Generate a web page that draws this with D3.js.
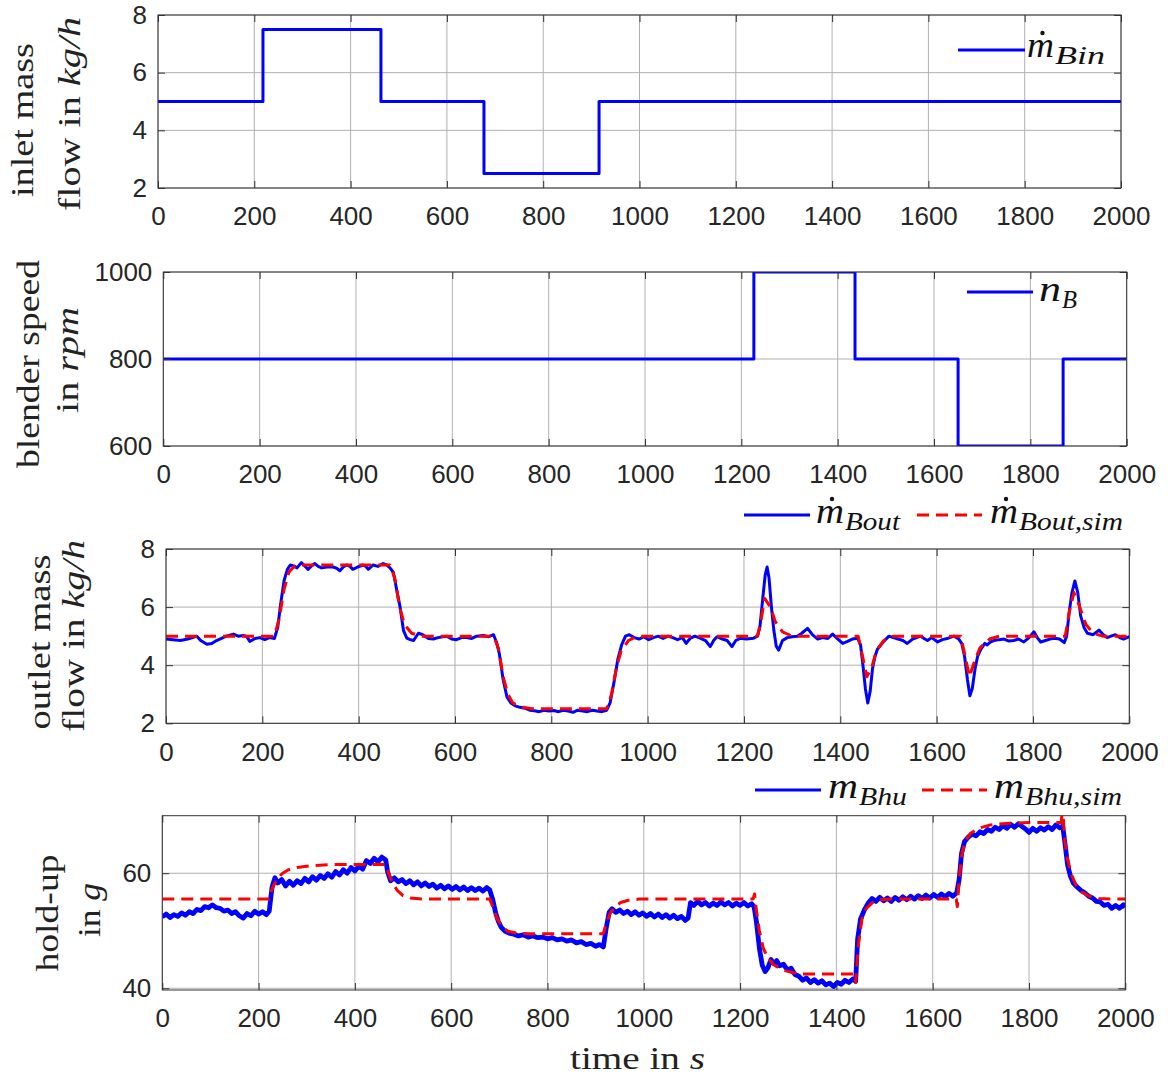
<!DOCTYPE html>
<html><head><meta charset="utf-8">
<script src="https://cdn.jsdelivr.net/npm/d3@7"></script>
<style>body{margin:0;background:#fff} svg{display:block}</style>
</head><body><svg id="c" width="1168" height="1075"></svg>
<script>
// ---------------- DATA ----------------
const xTicks = [0,200,400,600,800,1000,1200,1400,1600,1800,2000];

// Panel 1: inlet mass flow (step changes)
const tIn  = [0, 218, 463, 677, 916, 2000];
const mBin = [5, 7.5, 5, 2.5, 5, 5];
const yTicks1 = [2,4,6,8];

// Panel 2: blender speed (step changes)
const tN = [0, 1226, 1436, 1650, 1868, 2000];
const nB = [800, 1000, 800, 600, 800, 800];
const yTicks2 = [600,800,1000];

// Panel 3: outlet mass flow, measured
const tOut = [0,15,30,45,55,64,72,85,95,105,115,125,140,150,160,167,174,185,195,205,215,225,232,238,245,252,258,265,272,281,290,295,302,309,316,323,335,347,355,361,368,375,382,388,398,409,415,420,430,440,451,458,465,472,479,486,493,500,507,514,524,533,545,555,565,575,583,593,603,614,624,635,645,659,670,680,686,692,700,708,716,725,735,745,755,765,775,785,795,805,815,825,835,845,855,865,875,885,895,905,915,922,930,938,946,954,962,972,982,992,1002,1012,1022,1032,1042,1052,1062,1072,1080,1088,1098,1109,1120,1130,1137,1144,1155,1165,1175,1183,1193,1205,1220,1228,1233,1239,1244,1248,1252,1257,1262,1267,1272,1280,1290,1300,1311,1320,1332,1342,1353,1363,1374,1384,1395,1405,1415,1425,1436,1442,1447,1452,1457,1462,1467,1472,1477,1489,1501,1510,1520,1530,1539,1550,1567,1574,1581,1590,1602,1612,1624,1636,1646,1652,1658,1664,1669,1674,1680,1685,1692,1700,1705,1712,1719,1730,1740,1750,1760,1770,1781,1792,1802,1809,1816,1826,1835,1844,1855,1865,1870,1875,1881,1887,1893,1899,1906,1913,1925,1937,1946,1954,1962,1971,1980,1988,1995,2000];
const mBout = [4.9,4.88,4.85,4.9,4.95,5.0,4.85,4.72,4.75,4.85,4.92,5.0,5.07,5.0,5.02,5.0,4.82,4.92,4.95,4.88,4.95,4.92,5.3,6.1,6.9,7.3,7.45,7.42,7.35,7.53,7.38,7.3,7.42,7.5,7.4,7.35,7.38,7.38,7.33,7.25,7.38,7.45,7.4,7.3,7.38,7.45,7.4,7.3,7.45,7.4,7.5,7.45,7.35,7.2,6.6,6.0,5.2,4.93,4.88,4.85,5.1,5.05,4.92,4.9,4.95,4.98,5.0,4.9,4.88,4.95,4.95,4.92,5.0,5.02,4.98,5.05,4.8,4.4,3.5,2.9,2.7,2.6,2.55,2.52,2.45,2.43,2.4,2.45,2.42,2.44,2.4,2.45,2.42,2.38,2.45,2.42,2.4,2.45,2.42,2.4,2.45,2.7,3.4,4.2,4.7,5.0,5.05,4.95,4.9,4.98,4.88,4.95,5.0,4.92,5.0,4.95,4.88,4.95,4.75,4.92,5.0,4.93,4.85,4.64,4.85,4.98,4.9,4.85,4.64,4.85,4.93,4.9,4.93,5.0,5.3,6.3,7.1,7.38,7.0,6.0,5.2,4.65,4.52,4.85,4.95,4.98,5.0,5.1,5.27,5.05,4.9,4.95,4.92,5.07,4.9,4.75,4.82,4.9,4.93,4.7,4.0,3.2,2.7,3.1,3.9,4.3,4.55,4.8,5.0,4.95,4.9,4.85,4.75,4.9,5.0,4.92,4.85,4.95,4.8,4.88,4.93,5.0,4.9,4.75,4.3,3.5,2.95,3.2,3.9,4.3,4.55,4.75,4.7,4.8,4.85,4.88,4.9,4.83,4.85,4.9,4.8,4.95,5.15,4.95,4.8,4.85,4.9,4.93,4.9,4.78,5.0,5.8,6.5,6.9,6.5,5.7,5.3,5.1,5.05,5.21,5.05,4.95,5.0,5.05,4.95,4.9,4.95,4.98];

// Panel 3: outlet mass flow, simulated
const tOutSim = [0,225,235,245,255,265,280,465,475,485,495,510,530,680,690,700,710,720,740,760,915,925,935,945,960,980,1228,1235,1243,1255,1265,1280,1300,1437,1445,1455,1465,1475,1490,1510,1650,1658,1668,1678,1690,1710,1730,1867,1875,1885,1895,1910,1925,1945,2000];
const mBoutSim = [5,5,5.6,6.6,7.2,7.38,7.45,7.45,7.0,6.0,5.4,5.1,5.0,5.0,4.6,3.6,3.0,2.7,2.55,2.5,2.5,3.0,3.9,4.5,4.85,5.0,5.0,5.5,6.3,6.0,5.5,5.15,5.0,5.0,4.4,3.6,3.9,4.5,4.85,5.0,5.0,4.4,3.6,4.1,4.6,4.9,5.0,5.0,5.8,6.5,6.1,5.4,5.1,5.0,5.0];

// Panel 4: hold-up, measured
const tHu = [0,8,16,24,32,40,48,56,64,72,80,88,96,104,112,120,128,136,144,152,160,168,176,184,192,200,208,216,222,228,234,240,248,256,264,272,280,288,296,304,312,320,328,336,344,352,360,368,376,384,392,400,408,416,424,432,440,448,456,464,468,474,482,490,498,506,514,522,530,538,546,554,562,570,578,586,594,602,610,618,626,634,642,650,658,666,674,680,686,692,698,704,712,720,730,740,750,760,770,780,790,800,810,820,830,840,850,860,870,880,890,900,908,916,922,928,934,942,950,958,966,974,982,990,998,1006,1014,1022,1030,1038,1046,1054,1062,1070,1078,1086,1092,1097,1104,1112,1120,1128,1136,1144,1152,1160,1168,1176,1184,1192,1200,1208,1216,1224,1229,1234,1240,1246,1252,1258,1264,1270,1276,1282,1290,1298,1306,1314,1322,1330,1338,1346,1354,1362,1370,1378,1386,1394,1402,1410,1418,1426,1434,1440,1444,1450,1458,1466,1474,1482,1490,1498,1506,1514,1522,1530,1538,1546,1554,1562,1570,1578,1586,1594,1602,1610,1618,1626,1634,1642,1650,1655,1660,1666,1674,1682,1690,1698,1706,1714,1722,1730,1738,1746,1754,1762,1770,1778,1786,1794,1800,1808,1816,1824,1832,1840,1848,1856,1864,1870,1875,1880,1886,1892,1900,1908,1916,1924,1932,1940,1948,1956,1964,1972,1980,1988,1996,2000];
const mBhu = [52.4,52.9,52.3,52.8,52.5,53.1,52.7,53.3,53.0,53.7,53.5,54.2,54.0,54.5,54.0,53.9,53.4,53.6,53.0,53.3,52.6,52.2,53.0,52.6,53.4,52.9,53.3,52.8,53.4,57.6,59.2,58.3,58.9,57.8,58.6,57.9,58.7,58.2,59.1,58.5,59.4,58.8,59.6,59.1,59.9,59.3,60.3,59.7,60.6,60.0,61.0,60.4,61.2,60.7,62.2,61.7,62.6,62.0,62.8,62.3,60.2,58.7,59.2,58.5,58.9,58.2,58.7,58.0,58.5,57.8,58.3,57.7,58.1,57.4,57.9,57.3,57.8,57.2,57.7,57.1,57.6,57.0,57.5,57.0,57.4,56.9,57.5,57.1,55.5,53.2,51.6,50.6,49.9,49.6,49.4,49.1,49.3,48.9,49.1,48.8,48.9,48.6,48.8,48.4,48.6,48.2,48.4,47.9,48.1,47.6,47.8,47.3,47.6,47.2,50.5,53.2,53.8,53.2,53.6,53.0,53.4,52.8,53.3,52.7,53.1,52.5,53.0,52.4,52.9,52.3,52.8,52.2,52.7,52.1,52.5,51.8,52.2,54.9,54.4,55.1,54.5,54.9,54.3,54.8,54.4,55.0,54.5,54.9,54.3,54.8,54.4,54.9,54.3,54.7,54.2,51.5,47.0,44.0,42.9,43.6,45.0,44.3,44.8,43.9,44.2,43.2,43.5,42.4,42.1,41.4,41.8,41.0,41.5,40.9,41.3,40.6,40.9,40.3,41.0,40.7,41.4,41.0,41.6,41.2,48.5,52.0,53.6,54.8,55.6,55.1,55.8,55.2,55.7,55.1,55.8,55.3,55.9,55.4,56.0,55.5,56.1,55.6,56.2,55.7,56.3,55.8,56.4,55.9,56.5,56.0,56.6,59.0,63.5,65.5,66.3,66.8,66.5,67.2,66.9,67.6,67.3,68.0,67.6,68.3,67.8,68.5,68.0,68.6,68.1,67.6,67.1,67.8,67.3,67.9,67.5,68.1,67.6,68.4,67.9,68.2,65.0,61.5,59.5,58.3,57.6,57.0,56.6,56.0,55.7,55.1,55.0,54.4,54.6,53.9,54.4,53.9,54.5,54.1];

// Panel 4: hold-up, simulated
const tHuSim = [0,222,226,232,240,250,262,280,310,350,465,470,478,488,500,515,540,680,688,696,706,718,735,760,916,922,930,940,952,968,990,1227,1230,1234,1240,1248,1258,1270,1285,1305,1325,1437,1440,1445,1453,1462,1475,1492,1515,1649,1651,1655,1660,1667,1678,1695,1720,1760,1800,1867,1870,1873,1880,1888,1898,1910,1925,1945,1970,2000];
const mBhuSim = [55.5,55.5,56.8,58.0,59.2,60.0,60.6,61.0,61.3,61.5,61.5,60.0,58.3,57.0,56.1,55.7,55.5,55.5,53.8,52.0,50.7,49.9,49.6,49.5,49.5,51.3,53.0,54.2,54.9,55.3,55.5,55.5,56.4,53.5,50.0,47.0,45.2,44.1,43.3,42.8,42.5,42.5,41.0,47.0,52.0,53.9,54.9,55.4,55.5,55.5,54.2,59.0,63.0,65.5,66.9,67.8,68.4,68.7,68.8,68.8,72.0,66.5,62.5,59.8,57.9,56.7,56.0,55.6,55.5,55.5];
const yTicks4 = [40,60];

// ---------------- DRAWING ----------------
const svg = d3.select('#c');
const BLUE = '#0000ff', RED = '#ff0000';
const TICKFONT = '"Liberation Sans", Arial, Helvetica, sans-serif';
const SERIF = '"Liberation Serif", "Times New Roman", serif';

const panels = [
  {l:158, r:1121, t:15, b:188, ydom:[2,8], yt:yTicks1,
   series:[{x:tIn, y:mBin, c:BLUE, step:true}],
   ylab:[{x:33, cy:120, len:154, segs:[['inlet mass',0]]},{x:80, cy:114, len:194, segs:[['flow in ',0],['kg/h',1]]}]},
  {l:163.3, r:1126.7, t:272, b:446, ydom:[600,1000], yt:yTicks2,
   series:[{x:tN, y:nB, c:BLUE, step:true}],
   ylab:[{x:39, cy:364, len:208, segs:[['blender speed',0]]},{x:78, cy:360, len:106, segs:[['in ',0],['rpm',1]]}]},
  {l:166, r:1129.3, t:549, b:723.3, ydom:[2,8], yt:yTicks1,
   series:[{x:tOut, y:mBout, c:BLUE},{x:tOutSim, y:mBoutSim, c:RED, dash:true}],
   ylab:[{x:50, cy:642, len:175, segs:[['outlet mass',0]]},{x:84, cy:636, len:192, segs:[['flow in ',0],['kg/h',1]]}]},
  {l:162.3, r:1125.3, t:815.7, b:990, ydom:[39.7,70], yt:yTicks4,
   series:[{x:tHu, y:mBhu, c:BLUE, w:4.8},{x:tHuSim, y:mBhuSim, c:RED, dash:true}],
   ylab:[{x:58, cy:913, len:117, segs:[['hold-up',0]]},{x:100, cy:910, len:54, segs:[['in ',0],['g',1]]}]}
];

panels.forEach((p, i) => {
  const x = d3.scaleLinear().domain([0,2000]).range([p.l, p.r]);
  const y = d3.scaleLinear().domain(p.ydom).range([p.b, p.t]);
  const g = svg.append('g');

  // grid
  g.append('g').selectAll('line').data(xTicks).join('line')
    .attr('x1', d=>x(d)).attr('x2', d=>x(d)).attr('y1', p.t).attr('y2', p.b)
    .attr('stroke', '#b0b0b0').attr('stroke-width', 1);
  g.append('g').selectAll('line').data(p.yt).join('line')
    .attr('x1', p.l).attr('x2', p.r).attr('y1', d=>y(d)).attr('y2', d=>y(d))
    .attr('stroke', '#b0b0b0').attr('stroke-width', 1);

  // clip
  const cid = 'clip' + i;
  svg.append('clipPath').attr('id', cid).append('rect')
    .attr('x', p.l).attr('y', p.t).attr('width', p.r - p.l).attr('height', p.b - p.t);

  // data
  p.series.forEach(s => {
    const pts = s.x.map((t, k) => [t, s.y[k]]);
    const line = d3.line().x(d=>x(d[0])).y(d=>y(d[1]))
      .curve(s.step ? d3.curveStepAfter : d3.curveLinear);
    g.append('path').datum(pts).attr('d', line)
      .attr('clip-path', `url(#${cid})`)
      .attr('fill', 'none').attr('stroke', s.c)
      .attr('stroke-width', s.w || 3)
      .attr('stroke-linejoin', 'round')
      .attr('stroke-dasharray', s.dash ? '12,7' : null);
  });

  // box
  g.append('rect').attr('x', p.l).attr('y', p.t).attr('width', p.r - p.l).attr('height', p.b - p.t)
    .attr('fill', 'none').attr('stroke', '#333').attr('stroke-width', 1);

  // axes (ticks inside)
  const fmt = d3.format('d');
  const ax = [
    g.append('g').attr('transform', `translate(0,${p.b})`)
      .call(d3.axisBottom(x).tickValues(xTicks).tickFormat(fmt).tickSizeInner(-7).tickSizeOuter(0).tickPadding(19)),
    g.append('g').attr('transform', `translate(0,${p.t})`)
      .call(d3.axisTop(x).tickValues(xTicks).tickFormat('').tickSizeInner(-7).tickSizeOuter(0)),
    g.append('g').attr('transform', `translate(${p.l},0)`)
      .call(d3.axisLeft(y).tickValues(p.yt).tickFormat(fmt).tickSizeInner(-7).tickSizeOuter(0).tickPadding(11)),
    g.append('g').attr('transform', `translate(${p.r},0)`)
      .call(d3.axisRight(y).tickValues(p.yt).tickFormat('').tickSizeInner(-7).tickSizeOuter(0))
  ];
  ax.forEach(a => {
    a.select('.domain').remove();
    a.selectAll('line').attr('stroke', '#333');
    a.selectAll('text').attr('font-family', TICKFONT).attr('font-size', 26).attr('fill', '#262626');
  });

  // y-labels
  p.ylab.forEach(L => {
    const t = svg.append('text')
      .attr('transform', `translate(${L.x},${L.cy}) rotate(-90)`)
      .attr('text-anchor', 'middle')
      .attr('font-family', SERIF).attr('font-size', 32).attr('fill', '#222')
      .attr('textLength', L.len).attr('lengthAdjust', 'spacingAndGlyphs');
    L.segs.forEach(sg => t.append('tspan').text(sg[0]).attr('font-style', sg[1] ? 'italic' : 'normal'));
  });
});

// x-label
const tl = svg.append('text').attr('x', 637.5).attr('y', 1069).attr('text-anchor', 'middle')
  .attr('font-family', SERIF).attr('font-size', 32).attr('fill', '#222')
  .attr('textLength', 135).attr('lengthAdjust', 'spacingAndGlyphs');
tl.append('tspan').text('time in ');
tl.append('tspan').text('s').attr('font-style', 'italic');

// legends
function legendItem(x0, x1, yl, tx, base, sym, symW, sub, subW, color, dash, dot) {
  svg.append('line').attr('x1', x0).attr('x2', x1).attr('y1', yl).attr('y2', yl)
    .attr('stroke', color).attr('stroke-width', 3)
    .attr('stroke-dasharray', dash ? '12,7' : null);
  svg.append('text').attr('x', tx).attr('y', base)
    .attr('font-family', SERIF).attr('font-style', 'italic').attr('font-size', 36).attr('fill', '#111')
    .attr('textLength', symW).attr('lengthAdjust', 'spacingAndGlyphs')
    .text(sym);
  if (dot) {
    svg.append('circle').attr('cx', tx + symW/2 + 2).attr('cy', base - 24).attr('r', 2.2).attr('fill', '#111');
  }
  svg.append('text').attr('x', tx + symW + 1).attr('y', base + 7)
    .attr('font-family', SERIF).attr('font-style', 'italic').attr('font-size', 25).attr('fill', '#111')
    .attr('textLength', subW).attr('lengthAdjust', 'spacingAndGlyphs')
    .text(sub);
}
legendItem(958, 1025, 50, 1027, 57, 'm', 27, 'Bin', 50, BLUE, false, true);
legendItem(967, 1033, 292, 1039, 301, 'n', 22, 'B', 15, BLUE, false, false);
legendItem(744, 810, 515, 816, 523, 'm', 28, 'Bout', 55, BLUE, false, true);
legendItem(917, 982, 515, 990, 523, 'm', 28, 'Bout,sim', 104, RED, true, true);
legendItem(755, 821, 790, 828, 798, 'm', 30, 'Bhu', 48, BLUE, false, false);
legendItem(922, 987, 790, 994, 798, 'm', 30, 'Bhu,sim', 97, RED, true, false);
</script>
</body></html>
